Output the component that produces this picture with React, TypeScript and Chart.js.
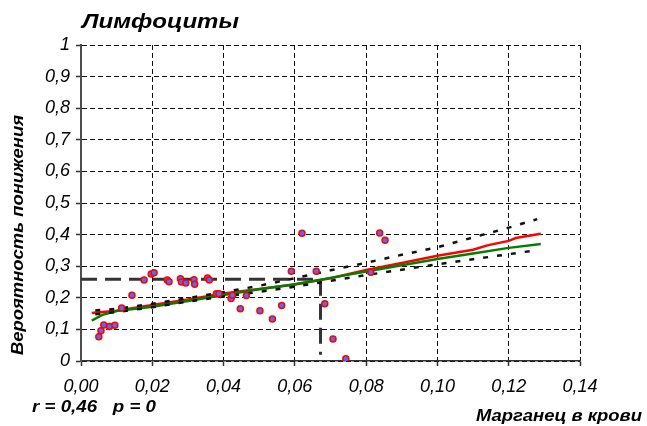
import React, { useEffect, useRef } from 'react';
import { Chart, registerables } from 'chart.js';

Chart.register(...registerables);

// ---- Data ----
const manganeseX = [
  0.0050, 0.0056, 0.0064, 0.0080, 0.0095, 0.0114, 0.0143, 0.0177, 0.0197, 0.0205,
  0.0242, 0.0247, 0.0279, 0.0282, 0.0294, 0.0317, 0.0319, 0.0355, 0.0360, 0.0380,
  0.0387, 0.0421, 0.0425, 0.0447, 0.0464, 0.0502, 0.0537, 0.0563, 0.0590, 0.0620,
  0.0660, 0.0684, 0.0707, 0.0743, 0.0813, 0.0838, 0.0853,
];
const probabilityY = [
  0.077, 0.096, 0.114, 0.109, 0.113, 0.168, 0.208, 0.256, 0.275, 0.279,
  0.256, 0.251, 0.260, 0.250, 0.247, 0.257, 0.243, 0.263, 0.256, 0.213,
  0.213, 0.198, 0.208, 0.165, 0.207, 0.159, 0.133, 0.176, 0.284, 0.404,
  0.284, 0.181, 0.070, 0.007, 0.281, 0.405, 0.382,
];

const redLineX = [0.003, 0.010, 0.020, 0.030, 0.040, 0.050, 0.060, 0.070, 0.080, 0.090, 0.100, 0.110, 0.114, 0.120, 0.122, 0.129];
const redLineY = [0.152, 0.159, 0.177, 0.195, 0.214, 0.228, 0.242, 0.262, 0.288, 0.310, 0.333, 0.352, 0.366, 0.380, 0.389, 0.403];

const greenLineX = [0.003, 0.006, 0.010, 0.020, 0.030, 0.040, 0.050, 0.060, 0.070, 0.080, 0.090, 0.100, 0.110, 0.120, 0.129];
const greenLineY = [0.128, 0.146, 0.158, 0.172, 0.190, 0.209, 0.227, 0.243, 0.263, 0.283, 0.303, 0.323, 0.340, 0.358, 0.370];

const upperBandX = [0.004, 0.010, 0.020, 0.030, 0.040, 0.050, 0.060, 0.070, 0.080, 0.090, 0.100, 0.110, 0.120, 0.128];
const upperBandY = [0.160, 0.165, 0.181, 0.199, 0.218, 0.238, 0.262, 0.287, 0.311, 0.336, 0.360, 0.391, 0.422, 0.449];
const lowerBandX = [0.004, 0.010, 0.020, 0.030, 0.040, 0.050, 0.060, 0.070, 0.080, 0.090, 0.100, 0.110, 0.120, 0.128];
const lowerBandY = [0.148, 0.155, 0.170, 0.188, 0.204, 0.219, 0.235, 0.254, 0.272, 0.289, 0.306, 0.322, 0.338, 0.351];

const markerLineX = [0, 0.0672, 0.0672];
const markerLineY = [0.2585, 0.2585, 0.02];

const yTickValues = [0, 0.1, 0.2, 0.3, 0.4, 0.5, 0.6, 0.7, 0.8, 0.9, 1];
const yTickLabels = ['0', '0,1', '0,2', '0,3', '0,4', '0,5', '0,6', '0,7', '0,8', '0,9', '1'];
const xTickValues = [0, 0.02, 0.04, 0.06, 0.08, 0.1, 0.12, 0.14];
const xTickLabels = ['0,00', '0,02', '0,04', '0,06', '0,08', '0,10', '0,12', '0,14'];

const chartTitle = 'Лимфоциты';
const xAxisTitle = 'Марганец в крови';
const yAxisTitle = 'Вероятность понижения';
const statsText = 'r = 0,46   p = 0';

const FONT = '"Liberation Sans", Arial, sans-serif';

const toPoints = (xs: number[], ys: number[]) => xs.map((x, i) => ({ x, y: ys[i] }));

// draws text stretched horizontally to a given width (the reference font is wider than Arial)
function drawWide(
  ctx: CanvasRenderingContext2D,
  text: string,
  x: number,
  y: number,
  align: 'left' | 'right' | 'center',
  width: number,
) {
  const w = ctx.measureText(text).width;
  const sx = w > 0 ? width / w : 1;
  ctx.save();
  ctx.translate(x, y);
  ctx.scale(sx, 1);
  ctx.textAlign = align;
  ctx.fillText(text, 0, 0);
  ctx.restore();
}

const textPlugin = {
  id: 'freeTexts',
  afterDraw(chart: any) {
    const ctx = chart.ctx as CanvasRenderingContext2D;
    ctx.save();
    ctx.fillStyle = '#000';
    ctx.textBaseline = 'alphabetic';
    ctx.font = `italic bold 21px ${FONT}`;
    drawWide(ctx, chartTitle, 82, 28, 'left', 157);
    ctx.font = `italic bold 17px ${FONT}`;
    drawWide(ctx, statsText, 32, 412, 'left', 124);
    ctx.font = `italic bold 16px ${FONT}`;
    drawWide(ctx, xAxisTitle, 642, 421, 'right', 166);
    ctx.translate(23, 235);
    ctx.rotate(-Math.PI / 2);
    ctx.font = `italic bold 16px ${FONT}`;
    drawWide(ctx, yAxisTitle, 0, 0, 'center', 240);
    ctx.restore();
  },
};

export default function App() {
  const canvasRef = useRef<HTMLCanvasElement | null>(null);

  useEffect(() => {
    const canvas = canvasRef.current;
    if (!canvas) return;
    const chart = new Chart(canvas, {
      type: 'scatter',
      data: {
        datasets: [
          {
            label: 'points',
            data: toPoints(manganeseX, probabilityY),
            showLine: false,
            pointRadius: 3,
            pointHoverRadius: 3,
            pointBackgroundColor: '#4f6df5',
            pointBorderColor: '#ff0000',
            pointBorderWidth: 1.5,
          },
          {
            label: 'upper',
            data: toPoints(upperBandX, upperBandY),
            showLine: true,
            pointRadius: 0,
            borderColor: '#111',
            borderWidth: 2.5,
            borderDash: [5, 9],
            tension: 0,
          },
          {
            label: 'lower',
            data: toPoints(lowerBandX, lowerBandY),
            showLine: true,
            pointRadius: 0,
            borderColor: '#111',
            borderWidth: 2.5,
            borderDash: [5, 9],
            tension: 0,
          },
          {
            label: 'green',
            data: toPoints(greenLineX, greenLineY),
            showLine: true,
            pointRadius: 0,
            borderColor: '#008000',
            borderWidth: 2.5,
            tension: 0,
          },
          {
            label: 'red',
            data: toPoints(redLineX, redLineY),
            showLine: true,
            pointRadius: 0,
            borderColor: '#ff0000',
            borderWidth: 2.5,
            tension: 0,
          },
          {
            label: 'marker',
            data: toPoints(markerLineX, markerLineY),
            showLine: true,
            pointRadius: 0,
            borderColor: '#333',
            borderWidth: 3,
            borderDash: [16, 8],
            tension: 0,
          },
        ],
      },
      options: {
        animation: false,
        responsive: false,
        maintainAspectRatio: false,
        layout: { padding: { left: 0, top: 45, right: 67, bottom: 0 } },
        plugins: {
          legend: { display: false },
          title: { display: false },
          tooltip: { enabled: false },
        },
        scales: {
          x: {
            type: 'linear',
            min: 0,
            max: 0.14,
            afterFit: (s: any) => { s.height = 65; },
            afterBuildTicks: (s: any) => { s.ticks = xTickValues.map((v) => ({ value: v })); },
            ticks: {
              callback: (_v: any, i: number) => xTickLabels[i],
              font: { family: FONT, size: 18, style: 'italic' },
              color: '#000',
              padding: 10,
              maxRotation: 0,
              autoSkip: false,
            },
            grid: {
              color: '#111',
              lineWidth: 1,
              tickLength: 5,
              tickColor: '#333',
              tickWidth: 1.5,
            },
            border: { display: true, color: '#333', width: 1.5, dash: [5, 3] },
          },
          y: {
            type: 'linear',
            min: 0,
            max: 1,
            afterFit: (s: any) => { s.width = 81; },
            afterBuildTicks: (s: any) => { s.ticks = yTickValues.map((v) => ({ value: v })); },
            ticks: {
              callback: (_v: any, i: number) => yTickLabels[i],
              font: { family: FONT, size: 18, style: 'italic' },
              color: '#000',
              padding: 6,
              autoSkip: false,
            },
            grid: {
              color: '#111',
              lineWidth: 1,
              tickLength: 5,
              tickColor: '#333',
              tickWidth: 1.5,
            },
            border: { display: true, color: '#4d4d4d', width: 2, dash: [5, 3] },
          },
        },
      },
      plugins: [textPlugin],
    });
    return () => chart.destroy();
  }, []);

  return (
    <div style={{ position: 'absolute', left: 0, top: 0, width: 647, height: 426, background: '#fff' }}>
      <canvas ref={canvasRef} width={647} height={426} style={{ display: 'block' }} />
    </div>
  );
}
